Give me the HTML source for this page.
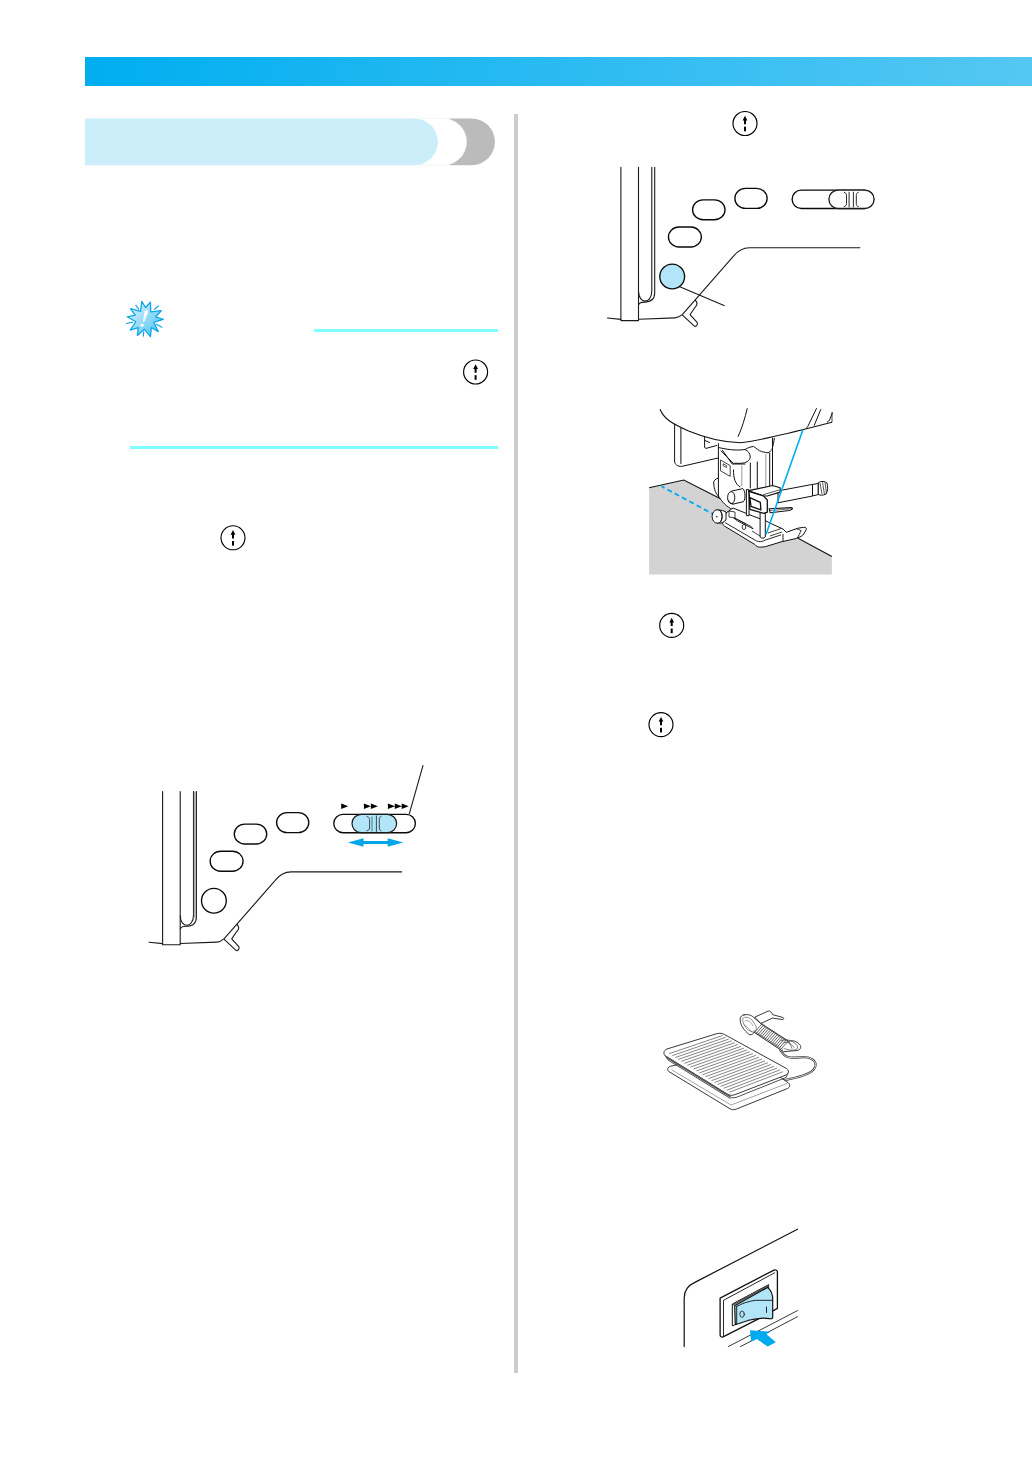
<!DOCTYPE html>
<html><head><meta charset="utf-8"><title>Page</title>
<style>
html,body{margin:0;padding:0;background:#fff;}
body{width:1032px;height:1458px;position:relative;overflow:hidden;font-family:"Liberation Sans",sans-serif;}
svg{position:absolute;left:0;top:0;}
</style></head>
<body>
<svg width="1032" height="1458" viewBox="0 0 1032 1458">
<defs>
<linearGradient id="bar" x1="0" y1="0" x2="1" y2="0">
<stop offset="0" stop-color="#00AEF0"/><stop offset="1" stop-color="#55C7F3"/>
</linearGradient>
<linearGradient id="star" x1="0" y1="0" x2="1" y2="1">
<stop offset="0" stop-color="#E4F6FD"/><stop offset="0.55" stop-color="#8ED8F6"/><stop offset="1" stop-color="#3EC0F0"/>
</linearGradient>
<g id="ico">
<circle cx="0" cy="0" r="12" fill="#fff" stroke="#000" stroke-width="1.15"/>
<path d="M0,-7.7 L2.4,-3 L1,-3 L1,0.7 L-1,0.7 L-1,-3 L-2.4,-3 Z" fill="#000"/>
<rect x="-1" y="3.2" width="2" height="4.6" fill="#000"/>
</g>
</defs>
<!-- top bar -->
<rect x="85" y="57" width="947" height="29" fill="url(#bar)"/>
<!-- section header pill -->
<path d="M449.5,118.5 H471.6 A23.35,23.35 0 0 1 471.6,165.2 H449.5 Z" fill="#BBBBBB"/>
<path d="M420,118.5 H443.3 A23.35,23.35 0 0 1 443.3,165.2 H420 Z" fill="#FFFFFF" stroke="#EEEEEE" stroke-width="0.6"/>
<path d="M85,118.5 H414.5 A23.35,23.35 0 0 1 414.5,165.2 H85 Z" fill="#CCEEFA"/>
<!-- divider -->
<rect x="514" y="114" width="4" height="1259" fill="#CCCCCC"/>
<!-- note lines -->
<rect x="314" y="329" width="184" height="3" fill="#7FFFFF"/>
<rect x="130" y="446" width="368" height="3" fill="#7FFFFF"/>
<!-- icons -->
<use href="#ico" x="475.6" y="372"/>
<use href="#ico" x="233" y="537.8"/>
<use href="#ico" x="745" y="123.5"/>
<use href="#ico" x="671.7" y="625.4"/>
<use href="#ico" x="661" y="724.6"/>
<svg x="115" y="295" width="60" height="50" viewBox="0 0 1032 860">
<path d="M460,110 L525,215 L610,125 L615,290 L795,270 L700,375 L830,420 L665,470 L745,630 L625,560 L610,715 L505,590 L385,695 L400,560 L260,605 L360,460 L210,375 L350,345 L265,235 L440,280 Z" fill="url(#star)" stroke="#0FA6E6" stroke-width="22" stroke-linejoin="round"/>
<g stroke="#0FA6E6" stroke-width="20" stroke-linecap="round" fill="none">
<path d="M358,178 L408,242"/><path d="M678,245 L748,188"/><path d="M198,490 L302,467"/><path d="M712,502 L806,556"/><path d="M494,632 L487,708"/>
</g>
<path d="M532,262 C558,256 576,270 566,298 L506,456 C500,468 481,465 482,450 L508,290 C511,273 519,265 532,262 Z" fill="#fff"/>
<ellipse cx="466" cy="520" rx="27" ry="24" fill="#fff"/>
</svg>
<g id="mach" fill="none" stroke="#1a1a1a" stroke-width="1.1" stroke-linejoin="round" stroke-linecap="round">
<path d="M162.6,791.5 V944.8 H180.2 V791.5"/>
<path d="M149.1,942.2 L162.6,943.6"/>
<path d="M193.5,791.5 V915 C193.5,922 190,925.3 187,925.3 C183.5,925.3 180.3,922 180.3,916"/>
<path d="M196.4,791.5 V917 C196.4,923.5 192,926.3 186,926.3 C183,926.3 181,927 180.3,929"/>
<path d="M180.3,943.5 L216.9,942.1 C219.5,942 222,940.5 224.2,938.6 L275.2,880.4 C279,875.5 284,871.9 291.2,871.9 H401.6"/>
<path d="M237.1,924.3 C239.3,927 238.8,929.5 237.1,931 L231.7,938.9 L238.6,946.4 C240,948.2 238.2,951.6 236,950.3 L224.2,939.3"/>
<g stroke="#0a0a0a" stroke-width="1.35">
<rect x="210.15" y="851.2" width="32.9" height="20" rx="10.5" ry="10"/>
<rect x="234.25" y="824.05" width="32.5" height="19.9" rx="10.5" ry="10"/>
<rect x="276.6" y="812.6" width="32.2" height="20" rx="10.5" ry="10"/>
<rect x="333.8" y="814.3" width="81.6" height="18.4" rx="9.2" ry="9.2"/>
</g>
</g>
<path d="M194.4,791.5 V918 M195.5,791.5 V918" stroke="#b0b0b0" stroke-width="1.1" fill="none"/>
<circle cx="213.9" cy="900.7" r="12.4" fill="#fff" stroke="#0a0a0a" stroke-width="1.35"/>
<!-- left slider knob (blue) -->
<rect x="352" y="814.3" width="44.6" height="18.4" rx="9.2" fill="#B3E5F8" stroke="#1a1a1a" stroke-width="1.2"/>
<g fill="none" stroke="#2a3a40" stroke-width="0.9">
<path d="M366.5,816.3 C368.5,817 369.6,818 369.6,819.5 V828 C369.6,829.5 368.5,830.3 366.5,830.9"/>
<path d="M381.5,816.3 C379.5,817 379.3,818 379.3,819.5 V828 C379.3,829.5 379.5,830.3 381.5,830.9"/>
<path d="M376.4,815.5 V832"/>
</g>
<path d="M372,816.5 V831.5" stroke="#6A95A5" stroke-width="1.4"/>
<path d="M409.2,814.2 L423.1,765.1" stroke="#1a1a1a" stroke-width="1.1"/>
<g fill="#000">
<path d="M341.2,803.5 L348.2,806.2 L341.2,808.9 Z"/>
<path d="M363.9,803.5 L370.9,806.2 L363.9,808.9 Z M370.9,803.5 L377.9,806.2 L370.9,808.9 Z"/>
<path d="M387.9,803.5 L394.9,806.2 L387.9,808.9 Z M394.8,803.5 L401.8,806.2 L394.8,808.9 Z M401.7,803.5 L408.7,806.2 L401.7,808.9 Z"/>
</g>
<path d="M347.9,842.5 L363.5,838.2 L363.5,841 L387.7,841 L387.7,838.2 L403.3,842.5 L387.7,846.8 L387.7,844 L363.5,844 L363.5,846.8 Z" fill="#00A6E8"/>
<g transform="translate(458.3,-624.2)">
<use href="#mach"/>
<rect x="370.6" y="814.3" width="45.2" height="18.4" rx="9.2" fill="#fff" stroke="#1a1a1a" stroke-width="1.3"/>
<g fill="none" stroke="#111" stroke-width="0.9">
<path d="M385.5,816.4 C387.3,816.8 388.2,818 388.2,819.5 V827.8 C388.2,829.5 387.3,830.4 385.5,830.9"/>
<path d="M400.4,816.4 C398.6,816.8 398,818 398,819.5 V827.8 C398,829.5 398.6,830.4 400.4,830.9"/>
<path d="M390.8,816 V831.5 M395.1,816 V831.5"/>
</g>
<circle cx="213.9" cy="900.7" r="12.4" fill="#B3E5F8" stroke="#0a0a0a" stroke-width="1.35"/>
<path d="M221.5,911 L266.3,930" stroke="#1a1a1a" stroke-width="1.1"/>
</g>
<g id="foot">
<path d="M649.1,487.8 L683.8,480 L831.9,556.6 V574.5 H649.1 Z" fill="#D3D3D3"/>
<path d="M649.1,487.8 L683.8,480 L720,498.6 M798,538.2 L831.9,556.6" fill="none" stroke="#111" stroke-width="1.1"/>
<path d="M661.5,486.3 L712.8,513.9" stroke="#00AAEE" stroke-width="1.8" stroke-dasharray="5,3.3" stroke-dashoffset="1.6" fill="none"/>
<g fill="#fff" stroke="#111" stroke-width="1" stroke-linejoin="round" stroke-linecap="round">
<!-- face plate -->
<path d="M674.6,424.7 V461 C674.6,464.5 677.5,466.6 681.8,466.4 L717.7,458.1 V440 L690,430 Z" stroke="none"/>
<path d="M674.6,424.2 V461 C674.6,464.5 677.5,466.6 681.8,466.4 L717.7,458.1" fill="none"/>
<path d="M680.9,428.1 V463.5" fill="none"/>
<!-- bracket -->
<path d="M704.6,437.3 V447.5 L706,448.4 L716.7,445.5 L716,441 Z" stroke="none"/>
<path d="M704.6,437.3 V447.5 L706,448.4 L716.7,445.5 M705,440.5 L709.5,442.5" fill="none"/>
<!-- holder main column -->
<path d="M718.4,444 V478 C715,479 713.5,481 713.7,483 C714,490 716,494 719.5,497.3 C722,502 726,506 733,510 L752.7,522.3 L760,524 L772.5,520 V440 L746.8,443 Z" stroke="none"/>
<path d="M718.4,443.5 V478 C715,479 713.5,481 713.7,483 C714,490 716,494 719.5,497.3 C722,502 726,506 733,510 L752.7,522.3 M772.5,438 V489" fill="none"/>
<path d="M718.4,478 V497" fill="none"/>
<!-- upper slanted block -->
<path d="M721,450.9 L733.3,463.3 L741,463.3 C746,463 749.5,461 750.3,457 C750,453 748,451 745.7,450.1" fill="none"/>
<path d="M722.5,450.4 L732.2,464 H745" fill="none"/>
<!-- small square -->
<path d="M720.9,460.2 L730.2,465.6 V476.4 L720.9,471 Z" fill="none" stroke-width="0.8"/>
<path d="M723.5,464 L726.5,465.5 V467.5 L723.5,466 Z" fill="none" stroke-width="0.7"/>
<!-- rods -->
<path d="M750.3,463 V488 M757.3,462 V488 M769.7,453 V489.5 M772.5,449 V489" fill="none"/>
<path d="M733.5,470 C733.5,478 735,484 739.9,486.9" fill="none"/>
</g>
<path d="M741.8,465.6 V486 M765.8,454 V490" stroke="#999" stroke-width="1" fill="none"/>
<!-- head bottom curve -->
<path d="M660,409.2 C664,419 672,423.5 688.6,431 C705,437.8 722,442 740,442.8 C760,441 790,433 832.1,422.3" fill="none" stroke="#111" stroke-width="1.1"/>
<path d="M747.3,408.2 C745,418 742,428 738,436.8 M816.6,408.2 L809,424 C808.3,425.8 807.5,427 806.3,428.3 M820.9,409.2 L814.1,425.7 M832.5,412.6 L829.5,420 C829,421 828,421.8 827,422.2" fill="none" stroke="#111" stroke-width="1"/>
<path d="M832,412 V422" stroke="#111" stroke-width="0.8"/>
<!-- head lower contour around shank -->
<path d="M718.5,447.5 C725,449 735,451 745,449.5 C748,447.5 752,446.5 753.6,446.5 C756,448 759,451 761.3,451.4 C764,452.5 767,452.5 768.1,452.8 C770,451.5 771.5,450.5 772,449.4 C773,446 774,441 774.4,437.8" fill="none" stroke="#111" stroke-width="1"/>
<!-- screw cylinder -->
<g fill="#fff" stroke="#111" stroke-width="1">
<path d="M731.2,491.2 L742.8,488.6 C745.5,491 745.8,499 743.4,501.7 L732.3,504.3 Z"/>
<ellipse cx="731.2" cy="497.6" rx="3.6" ry="6"/>
<path d="M728.5,500 C729.5,503 731.5,504 733,503.5" fill="none" stroke-width="0.8"/>
</g>
<!-- presser foot sole -->
<g fill="#fff" stroke="#111" stroke-width="1" stroke-linejoin="round">
<path d="M722.6,523.5 C723,525 724,526 725.2,526.5 L754.9,544.5 C756.5,546.5 758,547 759.2,547.1 C761,547.3 763,547 765.3,546.7 L781,541.9 L796.7,538.4 C800,537 802.5,536 803.7,534 L806.3,529.5 C806.8,528 805.5,527.2 803.7,527.3 L797.6,528.3 L786.3,532.3 L783,529 L772,524 L766,521 L752.7,516 L733,508 L726,513 Z"/>
<path d="M725.2,522.7 L756.6,541 C759,542 762,542 765.3,540.1 L781,534.9 M783,534 V541 M796.7,528.8 C799,529.5 800.5,530.5 801.1,530.5 C800,533 798.5,536.5 796.7,538.4" fill="none" stroke-width="0.9"/>
<path d="M733.1,517.4 L748.8,525.3 C751,526.5 752.5,527.5 753.1,528.8 L737.4,520.9 Z" fill="none" stroke-width="0.9"/>
<path d="M729,515 L746,524 M752,531 L760,536 M768,533 L781,528.5 M770,536 L782,532" fill="none" stroke-width="0.8"/>
<ellipse cx="744" cy="527" rx="1.8" ry="2.6" fill="none" stroke-width="0.8"/>
</g>
<!-- needle bar & clamp -->
<g fill="#fff" stroke="#111" stroke-width="1" stroke-linejoin="round">
<path d="M746.4,489.5 L749,489.8 V515.7 L746.4,515.5 Z"/>
<path d="M760.1,512 V537 C762,538.5 764,538.5 765.3,537 V512 Z"/>
<!-- right rod -->
<path d="M778,490.9 L812.5,484.4 V496 L778,502.8 Z"/>
<path d="M812.5,484.4 L818.3,483.5 V494.5 L812.5,496 Z"/>
<path d="M818.3,482.5 C821,481 825,481 827,483 C828,486 828,491 826,494 C823,495.5 820,495.5 818.3,494.5 Z"/>
<path d="M820,483 L822,494 M822.5,482.3 L824.5,494.5 M825,482.5 L826.5,493.5" fill="none" stroke-width="0.7"/>
<!-- clamp top -->
<path d="M748.7,490.7 L772.6,485.5 L780.1,487.8 L780.1,492.2 L767.3,496 L763.3,495.9 Z" stroke-width="1.2"/>
<path d="M763,494.8 L779,490" fill="none" stroke-width="0.7"/>
<!-- clamp front -->
<path d="M748.7,491.3 L763.3,495.9 L767.3,500 V512.2 L763.8,513.4 L749.9,509.3 L749.3,494.8 Z" stroke-width="1.3"/>
<path d="M749.9,497.7 L760.3,502.3 L760.9,509.9 L751,506.4 Z" fill="#fff" stroke-width="1.3"/>
<!-- thread guide plate -->
<path d="M769.1,508.7 L791.2,507.6 C792.3,507.8 792.6,508.5 792.3,508.9 L789.4,510.5 L770.2,512.8 Z" stroke-width="1.1"/>
<path d="M770,510.5 L789,509" fill="none" stroke-width="0.6"/>
</g>
<!-- knob -->
<g fill="#fff" stroke="#111" stroke-width="1" stroke-linejoin="round">
<path d="M729,511 L735,512 V518 L729,517 Z" stroke-width="0.8"/>
<path d="M717.2,509.8 L722.5,510.5 L726,512 V520 L722,523 L717.2,523.2 Z"/>
<ellipse cx="717.2" cy="516.5" rx="5.1" ry="6.7"/>
<path d="M720.5,510.5 C722.3,513 722.3,520 720.5,522.6" fill="none" stroke-width="0.8"/>
</g>
<circle cx="716.8" cy="516.7" r="0.8" fill="#111"/>
<!-- thread -->
<path d="M802.8,429.9 L766,534.5" stroke="#00AEEF" stroke-width="1.6" fill="none"/>
</g>
<g id="pedal" fill="#fff" stroke="#222" stroke-width="0.9" stroke-linejoin="round" stroke-linecap="round">
<!-- cable loop -->
<path d="M780.3,1050.3 C783,1054 785,1057 790,1057.5 C797,1058 804,1056.5 808,1057.5 C813,1059 816.5,1062 815.5,1066 C814,1071 810,1073 803,1075.5 C797,1077.5 790,1079 785,1080 L776,1082" fill="none" stroke-width="2.2" stroke="#333"/>
<path d="M780.3,1050.3 C783,1054 785,1057 790,1057.5 C797,1058 804,1056.5 808,1057.5 C813,1059 816.5,1062 815.5,1066 C814,1071 810,1073 803,1075.5 C797,1077.5 790,1079 785,1080 L776,1082" fill="none" stroke-width="0.8" stroke="#fff"/>
<!-- base plate -->
<path d="M669.8,1066.5 C667.5,1067.5 667,1070 668.8,1071.5 L730,1108.8 C732,1110 734.5,1110 736.5,1109 L787.5,1088.5 C790,1087.5 790.5,1084.5 788.5,1083 L770,1070 L690,1062 Z"/>
<path d="M672,1070 L731,1105 L787,1083.5" fill="none" stroke-width="0.6" stroke="#666"/>
<!-- top plate -->
<path d="M666.5,1049.2 C663.5,1050.5 663,1054 665.5,1056 L727.5,1094.2 C729.5,1095.5 732,1095.6 734.5,1094.8 L785.5,1075.2 C789,1073.8 789.5,1070.5 786.5,1068.5 L724.5,1034.5 C722.5,1033.3 720,1033 717.5,1033.5 Z"/>
<path d="M665.5,1056 L668,1060 L729.5,1098 L736,1097.5 L786,1077.5 L787.5,1074" fill="none" stroke-width="0.8"/>
<path d="M667.5,1057.8 L730,1096.4" fill="none" stroke="#555" stroke-width="1.8" stroke-dasharray="0.6,0.8"/>
<g stroke="#333" stroke-width="0.6" fill="none"><path d="M669.6,1053.5 L722.3,1035.6 M672.6,1055.5 L725.4,1037.4 M675.6,1057.4 L728.4,1039.2 M678.7,1059.3 L731.4,1041.0 M681.7,1061.2 L734.4,1042.8 M684.7,1063.2 L737.4,1044.7 M687.7,1065.1 L740.5,1046.5 M690.7,1067.0 L743.5,1048.3 M693.8,1068.9 L746.5,1050.1 M696.8,1070.8 L749.5,1051.9 M699.8,1072.8 L752.5,1053.7 M702.8,1074.7 L755.5,1055.5 M705.8,1076.6 L758.6,1057.3 M708.9,1078.5 L761.6,1059.2 M711.9,1080.5 L764.6,1061.0 M714.9,1082.4 L767.6,1062.8 M717.9,1084.3 L770.6,1064.6 M720.9,1086.2 L773.7,1066.4 M724.0,1088.1 L776.7,1068.2 M727.0,1090.1 L779.7,1070.0 M730.0,1092.0 L782.7,1071.8"/></g>
<!-- coil -->
<path d="M744.1,1014.8 C749,1014 752,1015.5 755,1018.5 L760.0,1022.8 L788.5,1041.3 C793,1039.5 798,1042 800.4,1045.5 C801.5,1048 799.5,1050.5 797,1050.5 L783.5,1051.7 L754.0,1032.2 C752,1036.5 748,1034.5 746.9,1032.4 C743,1029 740,1024 740.1,1018.9 C740.3,1016.5 742,1015 744.1,1014.8 Z" fill="#fff" stroke="#222" stroke-width="0.9"/>
<path d="M743,1018 C745,1016.5 749,1017 752,1020 L756,1026 C757,1030 755,1033 751,1031.5 C747,1030 744,1026 743,1022 Z" fill="none" stroke="#444" stroke-width="0.6"/>
<path d="M745,1021 C748,1019.5 751,1022 753,1026 M744.5,1025 C747,1026 749,1029 752,1032" fill="none" stroke="#555" stroke-width="0.5"/>
<path d="M761.9,1024.0 L754.4,1032.5 M763.6,1025.1 L756.2,1033.6 M765.4,1026.2 L757.9,1034.8 M767.1,1027.4 L759.7,1035.9 M768.9,1028.5 L761.4,1037.0 M770.6,1029.7 L763.2,1038.2 M772.3,1030.8 L764.9,1039.3 M774.1,1031.9 L766.7,1040.4 M775.8,1033.1 L768.4,1041.6 M777.6,1034.2 L770.2,1042.7 M779.3,1035.3 L771.9,1043.8 M781.1,1036.5 L773.6,1045.0 M782.8,1037.6 L775.4,1046.1 M784.6,1038.7 L777.1,1047.3 M786.3,1039.9 L778.9,1048.4 M788.1,1041.0 L780.6,1049.5" fill="none" stroke="#222" stroke-width="0.7"/>
<path d="M761.0,1024.1 L789.0,1042.6 M754.0,1030.8 L782.5,1049.3" fill="none" stroke="#444" stroke-width="0.6"/>
<path d="M781,1040.6 C785,1039.5 789,1039.5 791,1041 C795,1043 799,1045.5 797,1049 C794,1051 788,1050 784,1048.5 M784,1042.5 C788,1042 792,1044 794,1047.5 M789,1041.5 L792,1048.5" fill="none" stroke="#333" stroke-width="0.6"/>
<!-- plug -->
<path d="M755.1,1017 L768.1,1011.1 C770,1010.5 771.5,1012 772.5,1014.6 L783,1017.5 C784,1018 784,1019.5 782.5,1019.5 L772.5,1018.1 L761.2,1023.3 Z"/>
</g>
<g id="switch" stroke-linejoin="round" stroke-linecap="round">
<path d="M684.2,1346.6 V1298 C684.2,1291 688,1285.5 694.4,1282.6 L797.5,1229.2" fill="none" stroke="#111" stroke-width="1.2"/>
<path d="M728.3,1346.6 L797.5,1310.6 M740.5,1346.6 L797.5,1316.7" fill="none" stroke="#222" stroke-width="0.9"/>
<!-- plate -->
<path d="M720.1,1298.2 L774,1270.1 C775.5,1269.5 777.4,1270.5 777.4,1272 V1308.4 L758.4,1318.9 L723.1,1336.9 C721.5,1337.5 720.1,1336.5 720.1,1335 Z" fill="#fff" stroke="#111" stroke-width="1.3"/>
<path d="M723.5,1335.5 V1300.3 L774.7,1272.8" fill="none" stroke="#111" stroke-width="0.9"/>
<!-- recess -->
<path d="M732.3,1325.4 V1304 L768.6,1284.7 V1290 L734.5,1325 Z" fill="#fff" stroke="#111" stroke-width="1"/>
<path d="M733.5,1304.6 L768.3,1286" fill="none" stroke="#555" stroke-width="1.6" stroke-dasharray="0.6,0.6"/>
<!-- rocker -->
<path d="M734.7,1305.7 L767.6,1287.4 C770.5,1290 772.7,1294 772.7,1299 V1317.5 C772.7,1318.5 771.5,1319 769.3,1318.6 C765,1318 761,1318 758.4,1318.6 C754,1319 750,1320 748.9,1320.2 L735.3,1324.7 Z" fill="#B3E5F8" stroke="#111" stroke-width="1.2"/>
<path d="M736.7,1306.4 V1323.6 M736.7,1306.4 C742,1303.5 749,1301 755.7,1300.3 H772" fill="none" stroke="#111" stroke-width="0.9"/>
<ellipse cx="742.1" cy="1314.2" rx="2.2" ry="3.2" fill="none" stroke="#111" stroke-width="0.8"/>
<path d="M766.5,1307 V1312.5" stroke="#111" stroke-width="0.9"/>
<!-- arrow -->
<path d="M750,1330.3 L770.4,1331.7 L766.5,1334.3 L775.8,1342.3 L767.7,1346.6 L756.8,1339.1 L751.2,1341.8 Z" fill="#00AAEE"/>
</g>
</svg>
</body></html>
